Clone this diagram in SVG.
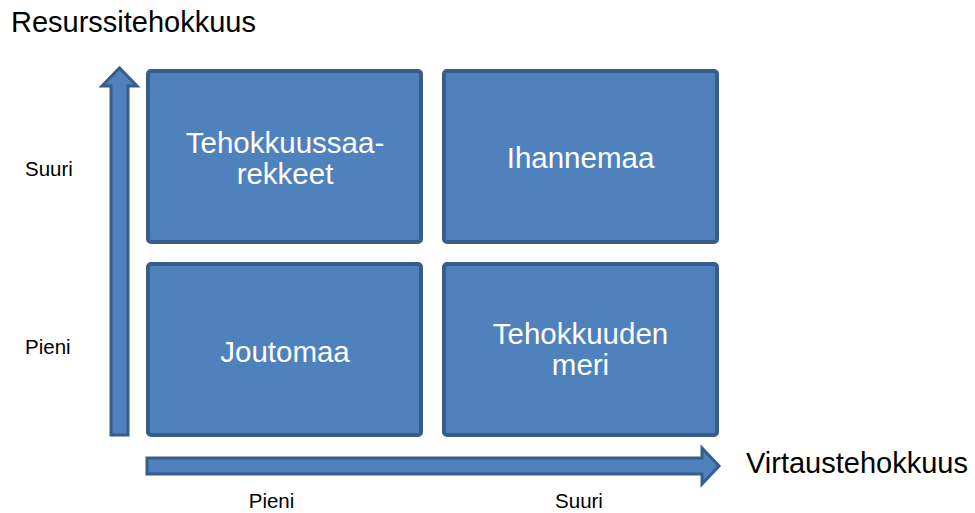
<svg xmlns="http://www.w3.org/2000/svg" width="975" height="513" viewBox="0 0 975 513">
<style>
.box{fill:#4F81BD;stroke:#385D8A;stroke-width:4;}
.arr{fill:#4F81BD;stroke:#385D8A;stroke-width:3;stroke-linejoin:miter;}
.bt{font-family:"Liberation Sans",Arial,sans-serif;font-size:29.5px;fill:#FFFFFF;text-anchor:middle;}
.lbl{font-family:"Liberation Sans",Arial,sans-serif;fill:#000000;}
</style>
<rect width="975" height="513" fill="#FFFFFF"/>
<text class="lbl" x="11" y="32" font-size="29">Resurssitehokkuus</text>
<text class="lbl" x="746" y="473" font-size="29">Virtaustehokkuus</text>
<text class="lbl" x="25" y="176" font-size="20.5">Suuri</text>
<text class="lbl" x="25" y="354" font-size="20.5">Pieni</text>
<text class="lbl" x="271.5" y="508" font-size="20.5" text-anchor="middle">Pieni</text>
<text class="lbl" x="579" y="508" font-size="20.5" text-anchor="middle">Suuri</text>
<g id="connectors">
<path class="arr" d="M111,435 L111,86 L102,86 L119.5,68 L137,86 L128,86 L128,435 Z"/>
<path class="arr" d="M147,458 L702,458 L702,448 L719,466 L702,484 L702,474 L147,474 Z"/>
</g>
<g id="n1">
<rect class="box" x="148" y="71" width="273" height="171" rx="3"/>
<text class="bt" x="285" y="153">Tehokkuussaa-</text>
<text class="bt" x="285" y="184">rekkeet</text>
</g>
<g id="n2">
<rect class="box" x="444" y="71" width="273" height="171" rx="3"/>
<text class="bt" x="580.5" y="168">Ihannemaa</text>
</g>
<g id="n3">
<rect class="box" x="148" y="264" width="273" height="171" rx="3"/>
<text class="bt" x="285" y="362">Joutomaa</text>
</g>
<g id="n4">
<rect class="box" x="444" y="264" width="273" height="171" rx="3"/>
<text class="bt" x="580.5" y="344">Tehokkuuden</text>
<text class="bt" x="580.5" y="375">meri</text>
</g>
</svg>
